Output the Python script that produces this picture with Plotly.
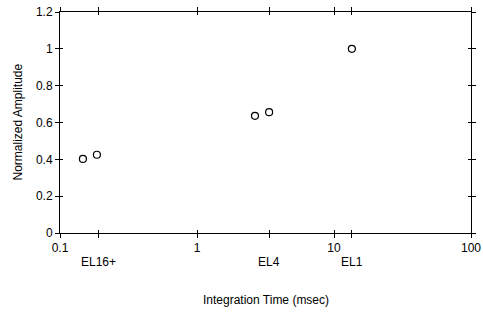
import math
import plotly.graph_objects as go

# Data
integration_time = [0.147, 0.186, 2.65, 3.36, 13.5]
normalized_amp = [0.402, 0.425, 0.636, 0.656, 1.0]

# Category markers on the x axis
cat_labels = ["EL16+", "EL4", "EL1"]
cat_positions = [0.19, 3.36, 13.5]

x_major = [0.1, 1, 10, 100]
x_major_text = ["0.1", "1", "10", "100"]
y_ticks = [0, 0.2, 0.4, 0.6, 0.8, 1.0, 1.2]
y_tick_text = ["0", "0.2", "0.4", "0.6", "0.8", "1", "1.2"]

FONT = "Liberation Sans"

fig = go.Figure()
fig.add_trace(go.Scatter(
    x=integration_time, y=normalized_amp, mode="markers",
    marker=dict(symbol="circle-open", size=7, color="black", line=dict(width=1.2, color="black")),
    showlegend=False, xaxis="x", yaxis="y"))
# invisible trace to activate the overlay axes (inner tick halves)
fig.add_trace(go.Scatter(
    x=integration_time, y=normalized_amp, mode="markers",
    marker=dict(opacity=0), showlegend=False, hoverinfo="skip", xaxis="x2", yaxis="y2"))

xtickvals = sorted(x_major + cat_positions)
xticktext = [x_major_text[x_major.index(v)] if v in x_major else "" for v in xtickvals]

common_x = dict(type="log", range=[-1, 2], tickvals=xtickvals, showgrid=False, zeroline=False,
                linecolor="black", linewidth=1, tickcolor="black", tickwidth=1, mirror="allticks",
                automargin=False)
common_y = dict(range=[0, 1.2], tickvals=y_ticks, showgrid=False, zeroline=False,
                linecolor="black", linewidth=1, tickcolor="black", tickwidth=1, mirror="allticks",
                automargin=False)

fig.update_layout(
    width=483, height=320,
    margin=dict(l=60, r=12, t=12, b=87),
    plot_bgcolor="white", paper_bgcolor="white",
    font=dict(family=FONT, size=12, color="black"),
    xaxis=dict(**common_x, ticks="outside", ticklen=4, ticktext=xticktext, tickfont=dict(size=12)),
    yaxis=dict(**common_y, ticks="outside", ticklen=4, ticktext=y_tick_text, tickfont=dict(size=12)),
    xaxis2=dict(**common_x, overlaying="x", ticks="inside", ticklen=3, showticklabels=False),
    yaxis2=dict(**common_y, overlaying="y", ticks="inside", ticklen=3, showticklabels=False),
)

annotations = []
for lab, pos in zip(cat_labels, cat_positions):
    annotations.append(dict(x=math.log10(pos), y=0, xref="x", yref="paper", yshift=-29, text=lab,
                            showarrow=False, yanchor="middle", xanchor="center",
                            font=dict(size=12, family=FONT)))
annotations.append(dict(x=0.5, y=0, xref="paper", yref="paper", yshift=-67,
                        text="Integration Time (msec)", showarrow=False, yanchor="middle",
                        font=dict(size=12, family=FONT)))
annotations.append(dict(x=0, y=0.5, xref="paper", yref="paper", xshift=-43,
                        text="Normalized Amplitude", textangle=-90, showarrow=False,
                        xanchor="center", font=dict(size=12, family=FONT)))
fig.update_layout(annotations=annotations)

fig.write_html("out.html")
